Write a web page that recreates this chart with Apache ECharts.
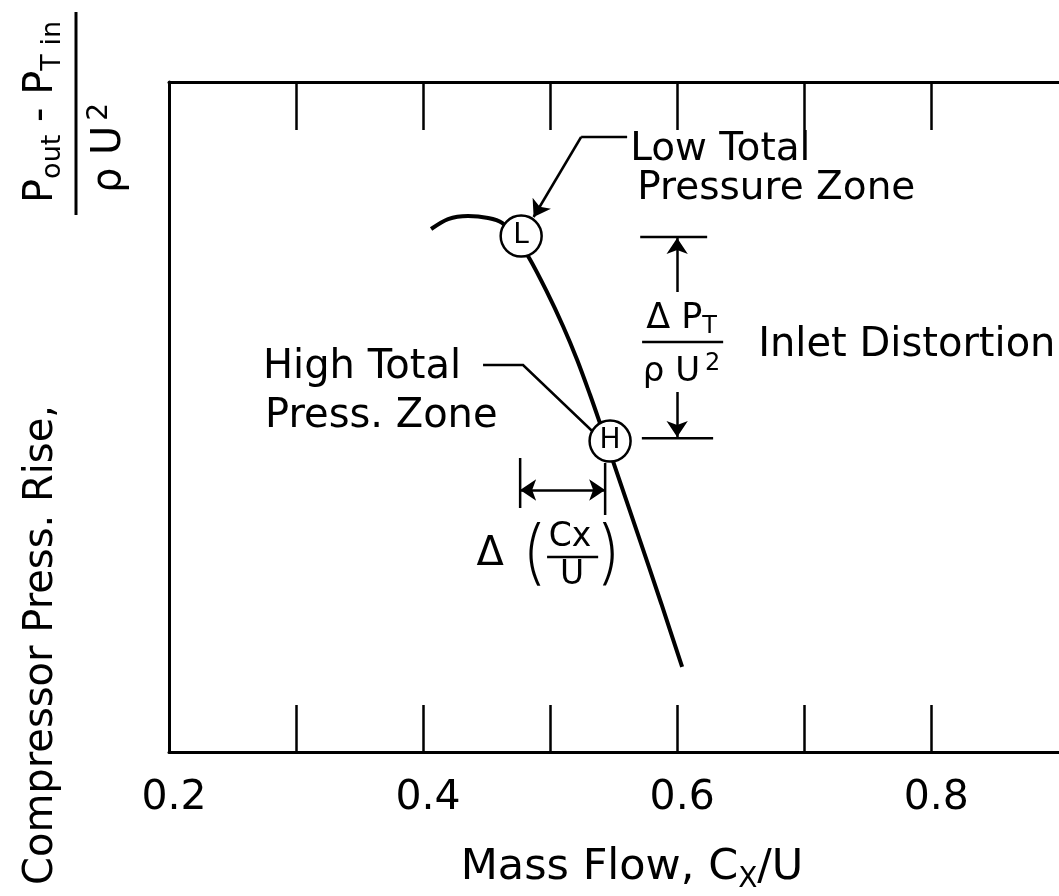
<!DOCTYPE html>
<html><head><meta charset="utf-8">
<script src="https://cdn.jsdelivr.net/npm/echarts@6/dist/echarts.min.js"></script>
<style>html,body{margin:0;padding:0;background:#fff}#c{width:1059px;height:896px}</style>
</head><body><div id="c"></div>
<script>
// ---- data ----
const xMin = 0.2, xMax = 0.91;
const xTickValues = [0.3, 0.4, 0.5, 0.6, 0.7, 0.8];
const xLabelValues = [0.2, 0.4, 0.6, 0.8];
const curveX = [0.4063, 0.4197, 0.4354, 0.4512, 0.4622, 0.4724, 0.4835, 0.4971, 0.5101, 0.5213, 0.5315, 0.5392, 0.5440, 0.5502, 0.5687, 0.5876, 0.6039];
const curveY = [7.806, 7.955, 8.000, 7.970, 7.896, 7.687, 7.373, 6.881, 6.358, 5.851, 5.328, 4.910, 4.642, 4.299, 3.269, 2.209, 1.269];
const zoneLabels = ['L', 'H'];
const zoneX = [0.4772, 0.5472];
const zoneY = [7.70, 4.64];

const FONT = 'DejaVu Sans';
const K = '#000';

const curveData = curveX.map((x, i) => [x, curveY[i]]);
const zoneData = zoneLabels.map((n, i) => ({ name: n, value: [zoneX[i], zoneY[i]] }));

// annotation geometry (data units)
const plainLines = [
  [[0.5606, 9.179], [0.5244, 9.179]],                    // Low total leader (flat part)
  [[0.4472, 5.776], [0.4787, 5.776], [0.5339, 4.776]],   // High total leader
  [[0.5709, 7.687], [0.6236, 7.687]],                    // dim top
  [[0.5722, 4.682], [0.6283, 4.682]],                    // dim bottom
  [[0.4764, 4.388], [0.4764, 3.642]],                    // left tick
  [[0.5433, 4.313], [0.5433, 3.537]],                    // right tick
  [[0.5724, 6.119], [0.6362, 6.119]],                    // fraction bar
  [[0.4976, 2.910], [0.5378, 2.910]]                     // fraction bar small
];
const arrowLines = [
  [[0.5244, 9.179], [0.4870, 7.985]],
  [[0.6, 6.866], [0.6, 7.672]],
  [[0.6, 5.373], [0.6, 4.701]]
];
const dblArrowLines = [
  [[0.4764, 3.91], [0.5433, 3.91]]
];

// text annotations: [x, y, text, fontSize, align]
const notes = [
  [0.563, 8.985, 'Low Total', 39, 'left'],
  [0.5685, 8.41, 'Pressure Zone', 39, 'left'],
  [0.274, 5.731, 'High Total', 40, 'left'],
  [0.2756, 5.007, 'Press. Zone', 40, 'left'],
  [0.6638, 6.06, 'Inlet Distortion', 40, 'left'],
  [0.4528, 2.94, 'Δ', 40, 'center'],
  [0.5157, 3.209, 'Cx', 33, 'center'],
  [0.5173, 2.642, 'U', 33, 'center']
];

const chart = echarts.init(document.getElementById('c'), null, { renderer: 'canvas' });
const axisLineStyle = { color: K, width: 3 };
chart.setOption({
  backgroundColor: '#fff',
  animation: false,
  grid: { left: 169, top: 82, width: 902, height: 670, containLabel: false, outerBoundsMode: 'none' },
  xAxis: [{
    type: 'value', min: xMin, max: xMax, interval: 0.1, position: 'bottom',
    axisLine: { show: true, lineStyle: axisLineStyle },
    axisTick: { show: true, inside: true, length: 47, lineStyle: { color: K, width: 2.5 }, customValues: xTickValues },
    axisLabel: { show: true, customValues: xLabelValues, margin: 26, fontSize: 41, fontFamily: FONT, color: K,
      padding: [0, 0, 0, 10], formatter: v => v.toFixed(1) },
    splitLine: { show: false },
    name: 'Mass Flow, C{s|X}/U', nameLocation: 'middle', nameGap: 90,
    nameTextStyle: { fontSize: 43, fontFamily: FONT, color: K, lineHeight: 52, padding: [0, 0, 0, 24],
      rich: { s: { fontSize: 28, fontFamily: FONT, color: K, verticalAlign: 'bottom', lineHeight: 28 } } }
  }, {
    type: 'value', min: xMin, max: xMax, interval: 0.1, position: 'top',
    axisLine: { show: true, lineStyle: axisLineStyle },
    axisTick: { show: true, inside: true, length: 48, lineStyle: { color: K, width: 2.5 }, customValues: xTickValues },
    axisLabel: { show: false }, splitLine: { show: false }
  }],
  yAxis: {
    type: 'value', min: 0, max: 10,
    axisLine: { show: true, lineStyle: axisLineStyle },
    axisTick: { show: false }, axisLabel: { show: false }, splitLine: { show: false }
  },
  series: [
    { type: 'line', data: curveData, smooth: 0.3, symbol: 'none', lineStyle: { color: K, width: 4 }, z: 3 },
    { type: 'lines', coordinateSystem: 'cartesian2d', polyline: true, symbol: 'none',
      lineStyle: { color: K, width: 2.5, opacity: 1 }, data: plainLines.map(c => ({ coords: c })), z: 3 },
    { type: 'lines', coordinateSystem: 'cartesian2d', symbol: ['none', 'arrow'], symbolSize: 16,
      lineStyle: { color: K, width: 2.5, opacity: 1 }, data: arrowLines.map(c => ({ coords: c })), z: 3 },
    { type: 'lines', coordinateSystem: 'cartesian2d', symbol: ['arrow', 'arrow'], symbolSize: 16,
      lineStyle: { color: K, width: 2.5, opacity: 1 }, data: dblArrowLines.map(c => ({ coords: c })), z: 3 },
    { type: 'scatter', data: zoneData, symbol: 'circle', symbolSize: 41, z: 5, silent: true,
      itemStyle: { color: '#fff', borderColor: K, borderWidth: 2.5, opacity: 1 },
      label: { show: true, position: 'inside', formatter: p => p.name, color: K, fontFamily: FONT, fontSize: 28 } }
  ]
});

// place text annotations through the axes' scales
const px = (x, y) => chart.convertToPixel({ xAxisIndex: 0, yAxisIndex: 0 }, [x, y]);
const g = notes.map(n => {
  const p = px(n[0], n[1]);
  return { type: 'text', x: p[0], y: p[1], silent: true, z: 100,
    style: { text: n[2], fontSize: n[3], fontFamily: FONT, fill: K, textAlign: n[4], textVerticalAlign: 'middle' } };
});
const pNum = px(0.6035, 6.46), pDen = px(0.6035, 5.672), pL = px(0.4866, 2.94), pR = px(0.5472, 2.94);
g.push(
  { type: 'text', x: pNum[0], y: pNum[1], silent: true, z: 100,
    style: { text: '{a|Δ P}{s|T}', textAlign: 'center', textVerticalAlign: 'middle',
      rich: { a: { fontSize: 35, fontFamily: FONT, fill: K, lineHeight: 40 }, s: { fontSize: 24, fontFamily: FONT, fill: K, verticalAlign: 'bottom', lineHeight: 22 } } } },
  { type: 'text', x: pDen[0], y: pDen[1], silent: true, z: 100,
    style: { text: '{a|ρ U}{p|2}', textAlign: 'center', textVerticalAlign: 'middle',
      rich: { a: { fontSize: 34, fontFamily: FONT, fill: K, lineHeight: 40 }, p: { fontSize: 24, fontFamily: FONT, fill: K, verticalAlign: 'top', lineHeight: 22, padding: [0, 0, 0, 5] } } } },
  { type: 'text', x: pL[0], y: pL[1], silent: true, z: 100,
    style: { text: '(', fontSize: 70, fontFamily: 'Inter', fontWeight: 200, fill: K, textAlign: 'center', textVerticalAlign: 'middle' } },
  { type: 'text', x: pR[0], y: pR[1], silent: true, z: 100,
    style: { text: ')', fontSize: 70, fontFamily: 'Inter', fontWeight: 200, fill: K, textAlign: 'center', textVerticalAlign: 'middle' } }
);
// rotated y-axis title
g.push({
  type: 'group', x: 0, y: 896, rotation: Math.PI / 2, silent: true,
  children: [
    { type: 'text', style: { text: 'Compressor Press. Rise,', x: 11, y: 42, fontSize: 40, fontFamily: FONT, fill: K, textAlign: 'left', textVerticalAlign: 'middle' } },
    { type: 'text', style: { text: '{a|P}{s|out}{a| - P}{s|T in}', x: 784, y: 42, textAlign: 'center', textVerticalAlign: 'middle',
        rich: { a: { fontSize: 40, fontFamily: FONT, fill: K, lineHeight: 48 }, s: { fontSize: 27, fontFamily: FONT, fill: K, verticalAlign: 'bottom', lineHeight: 22 } } } },
    { type: 'line', shape: { x1: 884, y1: 76, x2: 681, y2: 76 }, style: { stroke: K, lineWidth: 3 } },
    { type: 'text', style: { text: '{a|ρ U}{p|2}', x: 748, y: 110, textAlign: 'center', textVerticalAlign: 'middle',
        rich: { a: { fontSize: 40, fontFamily: FONT, fill: K, lineHeight: 48 }, p: { fontSize: 28, fontFamily: FONT, fill: K, verticalAlign: 'top', lineHeight: 26, padding: [0, 0, 0, 5] } } } }
  ]
});
chart.setOption({ graphic: g });
</script></body></html>
